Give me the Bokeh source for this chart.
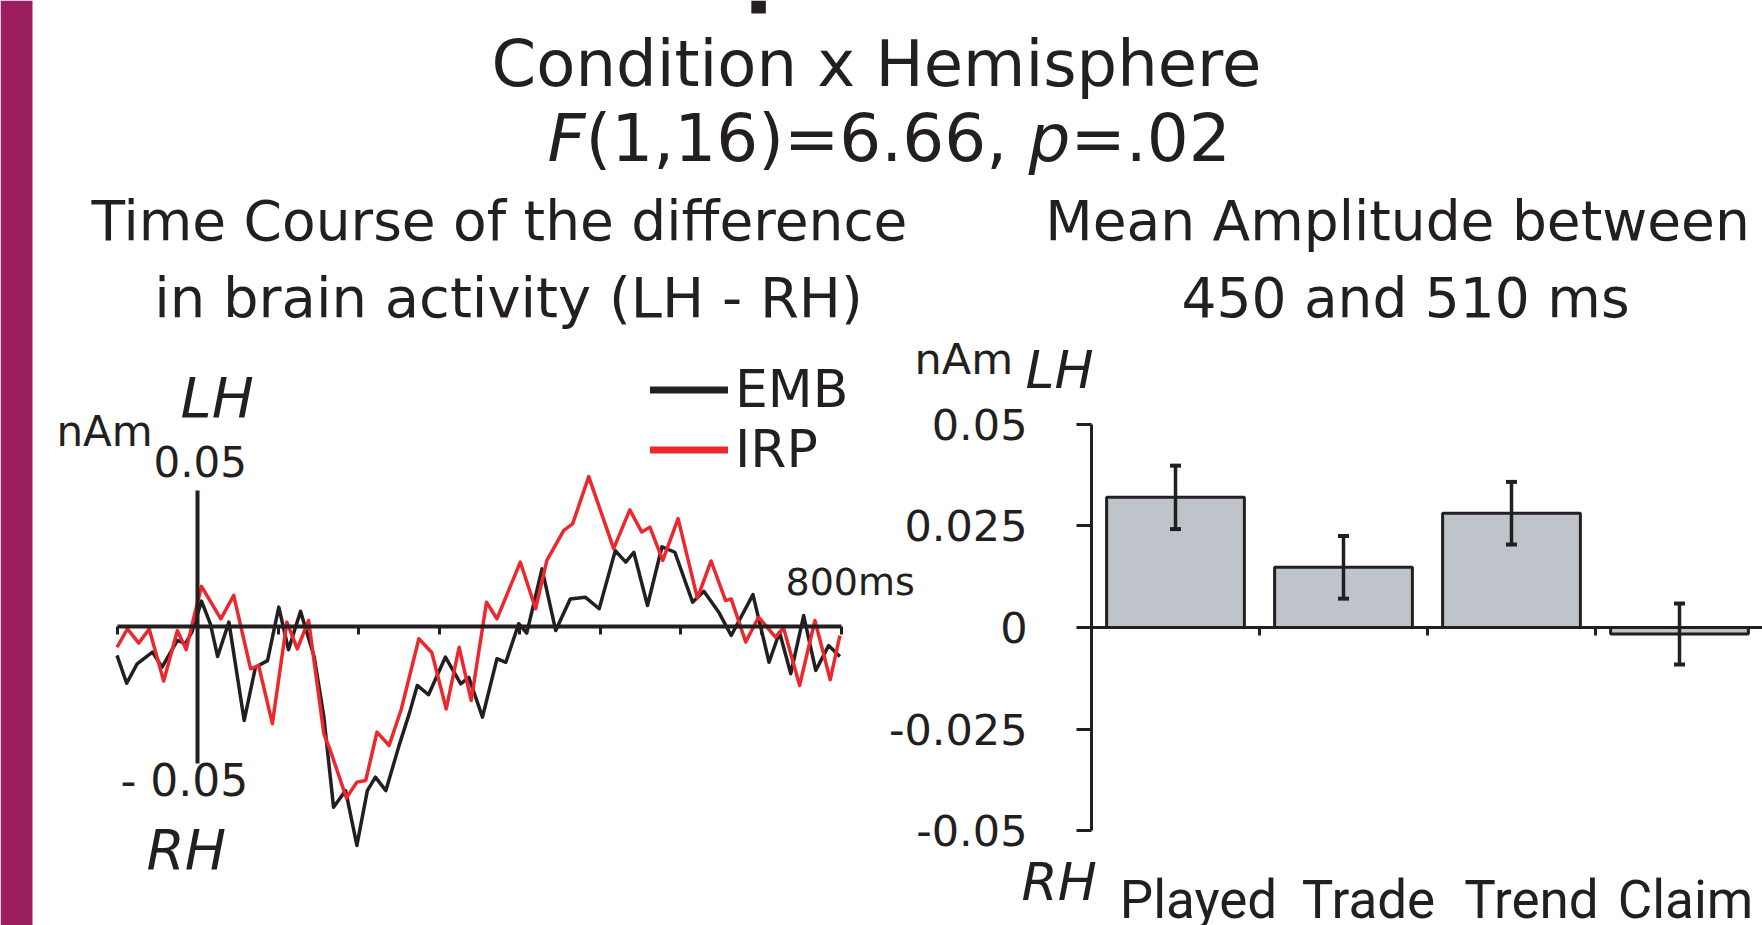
from bokeh.plotting import figure
from bokeh.models import (Range1d, LinearAxis, FixedTicker, NumeralTickFormatter, Label,
                          Legend, LegendItem, BoxAnnotation)
from bokeh.core.properties import value
from bokeh.embed import file_html
from bokeh.resources import INLINE

# ---------------- data ----------------
EMB_T = [-100, -88, -75, -56, -44, -25, -15, -7, 5, 16, 25, 39, 58, 72, 87, 101, 113, 128,
         145, 157, 169, 184, 198, 211, 221, 234, 250, 264, 273, 287, 308, 327, 337, 354,
         372, 383, 399, 409, 428, 445, 463, 482, 499, 519, 532, 542, 559, 577, 593, 615,
         629, 648, 663, 690, 710, 723, 737, 753, 768, 784, 798]
EMB_V = [-0.0106, -0.0208, -0.0137, -0.0094, -0.0149, -0.0051, -0.0063, -0.0021, 0.0093,
         0.0010, -0.0110, 0.0016, -0.0344, -0.0149, -0.0125, 0.0071, -0.0085, 0.0056,
         -0.0112, -0.0332, -0.0662, -0.0601, -0.0802, -0.0601, -0.0552, -0.0601, -0.0440,
         -0.0310, -0.0216, -0.0250, -0.0112, -0.0210, -0.0186, -0.0332, -0.0118, -0.0131,
         0.0010, -0.0024, 0.0211, -0.0015, 0.0101, 0.0107, 0.0065, 0.0278, 0.0236, 0.0272,
         0.0077, 0.0292, 0.0272, 0.0089, 0.0129, 0.0050, -0.0033, 0.0117, -0.0131, -0.0021,
         -0.0173, 0.0040, -0.0161, -0.0070, -0.0110]
IRP_T = [-100, -87, -73, -60, -42, -25, -14, -5, 5, 29, 45, 66, 76, 93, 111, 124, 138, 157,
         165, 185, 198, 209, 223, 238, 253, 275, 291, 309, 325, 340, 359, 372, 401, 420,
         434, 455, 466, 486, 517, 537, 552, 562, 578, 597, 621, 638, 656, 663, 681, 697,
         718, 728, 748, 767, 786, 798]
IRP_V = [-0.0076, -0.0009, -0.0061, -0.0009, -0.0200, -0.0015, -0.0085, 0.0028, 0.0147,
         0.0028, 0.0114, -0.0155, -0.0143, -0.0356, 0.0016, -0.0082, 0.0022, -0.0393,
         -0.0454, -0.0628, -0.0570, -0.0564, -0.0387, -0.0436, -0.0305, -0.0045, -0.0095,
         -0.0302, -0.0076, -0.0271, 0.0089, 0.0028, 0.0236, 0.0065, 0.0242, 0.0352, 0.0376,
         0.0549, 0.0285, 0.0427, 0.0346, 0.0364, 0.0242, 0.0395, 0.0104, 0.0240, 0.0095,
         0.0101, -0.0057, 0.0034, -0.0039, -0.0005, -0.0216, 0.0022, -0.0195, -0.0033]
TIME_TICKS = [-100, 0, 100, 200, 300, 400, 500, 600, 700, 800]
TIME_BOUNDS = [-100, 800]
AMP_BOUNDS = [-0.05, 0.05]

CATEGORIES = ["Played", "Trade", "Trend", "Claim"]
MEAN_AMP = [0.0320, 0.0148, 0.0281, -0.0016]
MEAN_SE = [0.0078, 0.0077, 0.0077, 0.0075]
BAR_TICKS = [-0.05, -0.025, 0, 0.025, 0.05]
CAT_TICKS = [0.5, 1.5, 2.5]

# ---------------- layout ----------------
W, H = 1762, 925
INK = "#231F20"
RED = "#EC282E"
BAR_FILL = "#BFC4CA"
FONT = "DejaVu Sans"
CAT_FONT = "Roboto"
CAT_X_OFFSETS = [23, 25, 20, 6]

# left chart pixel anchors (canvas coords, from top-left)
L_X0, L_PX_PER_MS = 197.0, 0.805
L_Y0, L_PX_PER_U = 626.0, 2730.0
# right chart anchors
R_X0, R_PX_PER_CAT = 1175.0, 168.0
R_Y0, R_PX_PER_U = 627.0, 4067.0

lx_start = -L_X0 / L_PX_PER_MS
ly_end = L_Y0 / L_PX_PER_U
rx_start = -R_X0 / R_PX_PER_CAT
ry_end = R_Y0 / R_PX_PER_U

p = figure(width=W, height=H, output_backend="svg", toolbar_location=None,
           x_range=Range1d(lx_start, lx_start + W / L_PX_PER_MS),
           y_range=Range1d(ly_end - H / L_PX_PER_U, ly_end),
           x_axis_location=None, y_axis_location=None, min_border=0,
           outline_line_color=None, background_fill_color="white",
           border_fill_color="white")
p.extra_x_ranges = {"rx": Range1d(rx_start, rx_start + W / R_PX_PER_CAT)}
p.extra_y_ranges = {"ry": Range1d(ry_end - H / R_PX_PER_U, ry_end)}
p.grid.visible = False

# decorations
p.add_layout(BoxAnnotation(left=0, right=32, left_units="screen", right_units="screen",
                           fill_color="#9B1D5E", fill_alpha=1, line_color=None))
p.add_layout(BoxAnnotation(left=688, right=706, bottom=0.2245, fill_color=INK,
                           fill_alpha=1, line_color=None))


def style_axis(ax, width, tick_out):
    ax.axis_line_width = width
    ax.axis_line_color = INK
    ax.major_tick_out = tick_out
    ax.major_tick_in = 0
    ax.major_tick_line_width = 3
    ax.major_tick_line_color = INK


# ---------- left chart: time course ----------
xax = LinearAxis(fixed_location=0, ticker=FixedTicker(ticks=TIME_TICKS, minor_ticks=[]),
                 bounds=tuple(TIME_BOUNDS))
style_axis(xax, 4, 8)
xax.major_label_text_color = None
p.add_layout(xax, "below")

yax = LinearAxis(fixed_location=0, ticker=FixedTicker(ticks=[], minor_ticks=[]),
                 bounds=tuple(AMP_BOUNDS))
style_axis(yax, 4, 0)
yax.major_label_text_color = None
p.add_layout(yax, "left")

r_emb = p.line(EMB_T, EMB_V, line_color=INK, line_width=3.5, line_join="round")
r_irp = p.line(IRP_T, IRP_V, line_color=RED, line_width=3.5, line_join="round")
# thicker swatches for the legend (a single undrawable point each)
NAN = float("nan")
sw_emb = p.line(x=[NAN], y=[NAN], line_color=INK, line_width=7, line_cap="round")
sw_irp = p.line(x=[NAN], y=[NAN], line_color=RED, line_width=7, line_cap="round")

legend = Legend(items=[LegendItem(label="EMB", renderers=[sw_emb]),
                       LegendItem(label="IRP", renderers=[sw_irp])],
                location=(650, 446), border_line_color=None, background_fill_alpha=0,
                padding=0, margin=0, spacing=0, glyph_width=78, glyph_height=59,
                label_height=59, label_standoff=7, label_text_font=FONT,
                label_text_font_size="52px", label_text_color=INK)
p.add_layout(legend)


def lab(x, y_top, text, size, style="normal", align="left", font=FONT):
    p.add_layout(Label(x=x, y=H - y_top, x_units="screen", y_units="screen", text=text,
                       text_font=font, text_font_size=f"{size}px", text_font_style=style,
                       text_color=INK, text_align=align, text_baseline="alphabetic"))


# titles
lab(876, 63, "Condition x Hemisphere", 64, align="center")
lab(547, 138, "F", 66, "italic")
lab(585, 138, "(1,16)=6.66,", 66)
lab(1028, 138, "p", 66, "italic")
lab(1070, 138, "=.02", 66)
lab(499, 220, "Time Course of the difference", 55, align="center")
lab(508, 297, "in brain activity (LH - RH)", 56, align="center")
lab(1397, 220, "Mean Amplitude between", 55, align="center")
lab(1405, 297, "450 and 510 ms", 55, align="center")

# left chart annotations
lab(56, 431, "nAm", 42)
lab(180, 397, "LH", 56, "italic")
lab(153, 461, "0.05", 42)
lab(120, 780, "- 0.05", 44)
lab(146, 849, "RH", 55, "italic")
lab(785, 581, "800ms", 38)

# ---------- right chart: mean amplitude ----------
idx = list(range(len(CATEGORIES)))
p.vbar(x=idx, width=0.82, top=MEAN_AMP, bottom=0, fill_color=BAR_FILL, line_color=INK,
       line_width=3, x_range_name="rx", y_range_name="ry")
lo = [m - s for m, s in zip(MEAN_AMP, MEAN_SE)]
hi = [m + s for m, s in zip(MEAN_AMP, MEAN_SE)]
p.segment(x0=idx, y0=lo, x1=idx, y1=hi, line_color=INK, line_width=3.5,
          x_range_name="rx", y_range_name="ry")
p.scatter(x=idx + idx, y=lo + hi, marker="dash", size=11, line_color=INK, line_width=4,
          x_range_name="rx", y_range_name="ry")

ryax = LinearAxis(x_range_name="rx", y_range_name="ry", fixed_location=-0.5,
                  ticker=FixedTicker(ticks=BAR_TICKS, minor_ticks=[]),
                  formatter=NumeralTickFormatter(format="0.[000]"),
                  bounds=tuple(AMP_BOUNDS))
style_axis(ryax, 3, 15)
ryax.major_label_text_font = FONT
ryax.major_label_text_font_size = "43px"
ryax.major_label_text_color = INK
ryax.major_label_standoff = 49
p.add_layout(ryax, "left")

rxax = LinearAxis(x_range_name="rx", y_range_name="ry", fixed_location=0,
                  ticker=FixedTicker(ticks=CAT_TICKS, minor_ticks=[]),
                  bounds=(-0.5, 3.6))
style_axis(rxax, 3, 8)
rxax.major_label_text_color = None
p.add_layout(rxax, "below")

p.text(x=idx, y=-0.05, text=CATEGORIES, x_offset=CAT_X_OFFSETS, y_offset=69,
       text_font=value(CAT_FONT), text_font_size="53px",
       text_color=INK, text_align="center", text_baseline="alphabetic",
       x_range_name="rx", y_range_name="ry")

lab(914, 358, "nAm", 43)
lab(1025, 369, "LH", 52, "italic")
lab(1021, 881, "RH", 52, "italic")

open("out.html", "w").write(file_html(p, INLINE))
